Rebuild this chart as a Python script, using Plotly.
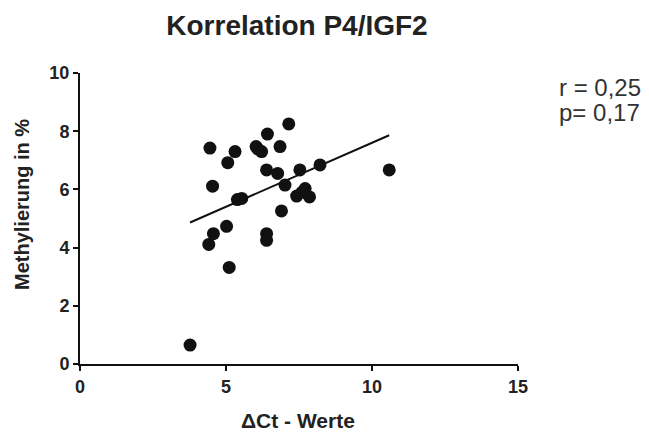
import numpy as np
import plotly.graph_objects as go

# Data
delta_ct = [4.45, 5.31, 5.06, 6.03, 6.22, 6.42, 7.15, 6.85, 4.54, 6.39, 6.77,
            7.02, 7.53, 8.22, 10.59, 5.39, 5.54, 7.42, 7.71, 7.86, 6.90, 5.02,
            4.57, 4.41, 6.39, 6.39, 5.11, 3.77, 6.10, 7.60]
methylierung = [7.42, 7.30, 6.92, 7.47, 7.30, 7.90, 8.25, 7.47, 6.11, 6.67, 6.55,
                6.15, 6.67, 6.84, 6.67, 5.65, 5.69, 5.77, 6.03, 5.74, 5.26, 4.73,
                4.48, 4.11, 4.48, 4.25, 3.32, 0.65, 7.38, 5.90]

x_ticks = [0, 5, 10, 15]
y_ticks = [0, 2, 4, 6, 8, 10]
stats_lines = ["r = 0,25", "p= 0,17"]

x = np.array(delta_ct)
y = np.array(methylierung)
slope, intercept = np.polyfit(x, y, 1)
fit_x = np.array([x.min(), x.max()])
fit_y = slope * fit_x + intercept

font_family = "Liberation Sans, Arial, sans-serif"
W, H = 649, 434

fig = go.Figure()
fig.add_trace(go.Scatter(x=fit_x, y=fit_y, mode="lines",
                         line=dict(color="#111111", width=2), showlegend=False))
fig.add_trace(go.Scatter(x=delta_ct, y=methylierung, mode="markers",
                         marker=dict(color="#111111", size=13), showlegend=False,
                         cliponaxis=False))

axis_common = dict(showline=True, linecolor="#111111", linewidth=2,
                   ticks="outside", ticklen=5, tickwidth=2, tickcolor="#111111",
                   showgrid=False, zeroline=False, automargin=False,
                   tickfont=dict(family=font_family, size=18, color="#222222",
                                 weight="bold"))

annotations = [
    dict(text="<b>ΔCt - Werte</b>", xref="paper", yref="paper",
         x=(298 - 80) / 438, y=-(420 - 364) / 291, xanchor="center", yanchor="middle",
         showarrow=False, font=dict(family=font_family, size=21, color="#222222")),
    dict(text="<b>Methylierung in %</b>", xref="paper", yref="paper",
         x=-(80 - 22) / 438, y=(364 - 205) / 291, xanchor="center", yanchor="middle",
         textangle=-90, showarrow=False,
         font=dict(family=font_family, size=20, color="#222222")),
]
for line_text, ypix in zip(stats_lines, [87, 112]):
    annotations.append(dict(text=line_text, xref="paper", yref="paper",
                            x=(557 - 80) / 438, y=(364 - ypix) / 291,
                            xanchor="left", yanchor="middle", showarrow=False,
                            font=dict(family=font_family, size=24, color="#333333")))

fig.update_layout(
    width=W, height=H,
    margin=dict(l=80, r=131, t=73, b=70),
    paper_bgcolor="white", plot_bgcolor="white",
    title=dict(text="<b>Korrelation P4/IGF2</b>", x=297 / W, xanchor="center",
               y=1 - 25 / H, yanchor="middle",
               font=dict(family=font_family, size=28, color="#222222")),
    xaxis=dict(range=[0, 15], tickvals=x_ticks, **axis_common),
    yaxis=dict(range=[0, 10], tickvals=y_ticks, **axis_common),
    annotations=annotations,
)

fig.write_html("out.html")
